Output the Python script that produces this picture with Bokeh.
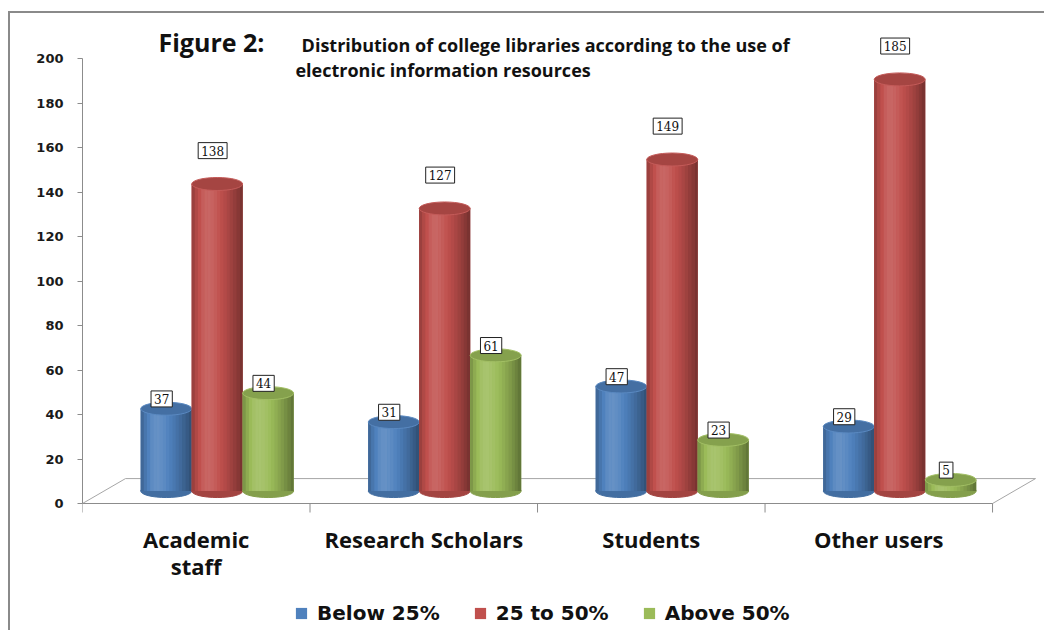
import numpy as np
from bokeh.plotting import figure
from bokeh.models import (Range1d, LinearAxis, FixedTicker, Label, Legend, LegendItem)
from bokeh.core.properties import value
from bokeh.embed import file_html
from bokeh.resources import INLINE

# ---------------- data ----------------
categories = ["Academic\nstaff", "Research Scholars", "Students", "Other users"]
series_names = ["Below 25%", "25 to 50%", "Above 50%"]
below_25 = [37, 31, 47, 29]
from_25_to_50 = [138, 127, 149, 185]
above_50 = [44, 61, 23, 5]
y_ticks = [0, 20, 40, 60, 80, 100, 120, 140, 160, 180, 200]
series_values = [below_25, from_25_to_50, above_50]
series_colors = ["#4F81BD", "#C0504D", "#9BBB59"]

# ---------------- style / geometry ----------------
PX = 2.225             # pixels per value unit on the y scale
BAR_W = 0.224          # bar width in category units
DEPTH_X = 0.092        # pseudo 3D depth shift (x, category units)
DEPTH_Y = 5.6          # pseudo 3D depth shift (y, value units)
FLOOR_X = 0.189
FLOOR_Y = 11.2
LABEL_DY = [4.4, 15.0, 4.4]
N_STRIPS = 16
GRAY = "#8C8C8C"


def shade(hex_color, f):
    c = [int(hex_color[i:i + 2], 16) for i in (1, 3, 5)]
    if f >= 1:
        c = [v + (255 - v) * (f - 1) * 1.3 for v in c]
    else:
        c = [v * f for v in c]
    c = [max(0, min(255, int(round(v)))) for v in c]
    return "#%02x%02x%02x" % tuple(c)


def profile(t):
    if t < 0.33:
        return 1.10 - 0.36 * ((0.33 - t) / 0.33) ** 2
    return 1.10 - 0.50 * ((t - 0.33) / 0.67) ** 1.5


p = figure(frame_width=956, frame_height=617, x_range=Range1d(0, 4.202),
           y_range=Range1d(-127 / PX, 490 / PX),
           output_backend="svg", toolbar_location=None,
           x_axis_location=None, y_axis_location=None,
           min_border_left=72, min_border_right=6, min_border_top=0, min_border_bottom=0)
p.grid.visible = False
p.outline_line_color = None
p.background_fill_color = "white"
p.border_fill_color = "white"
# the outer gray frame of the figure (left and top edges are visible)
p.styles = {"margin-left": "8px", "margin-top": "11px",
            "border-left": "2px solid #8a8a8a", "border-top": "2px solid #8a8a8a"}

# floor
p.patch(x=[0, 4, 4 + FLOOR_X, FLOOR_X], y=[0, 0, FLOOR_Y, FLOOR_Y],
        fill_color="white", line_color="#A6A6A6", line_width=1)

# category axis: line, boundary ticks and names
cat_edges = list(range(len(categories) + 1))
p.segment(x0=[0], y0=[0], x1=[len(categories)], y1=[0], line_color=GRAY, line_width=1)
p.segment(x0=cat_edges, y0=[0] * len(cat_edges), x1=cat_edges,
          y1=[-9 / PX] * len(cat_edges), line_color=GRAY, line_width=1)
p.text(x=[i + 0.5 for i in range(len(categories))], y=[-20 / PX] * len(categories),
       text=categories, text_align="center", text_baseline="top",
       text_font=value("Open Sans"), text_font_style="bold", text_font_size="22px",
       text_line_height=0.9, text_color="#111111")

# cylinders
legend_items = []
for s, (vals, col) in enumerate(zip(series_values, series_colors)):
    xs = [c + 0.5 + (s - 1) * BAR_W + DEPTH_X for c in range(len(vals))]
    tops_y = [DEPTH_Y + v for v in vals]
    p.ellipse(x=xs, y=[DEPTH_Y] * len(xs), width=BAR_W, height=13, height_units="screen",
              fill_color=shade(col, 0.85), line_color=shade(col, 0.85))
    body = p.vbar(x=xs, bottom=DEPTH_Y, top=tops_y, width=BAR_W,
                  fill_color=col, line_color=None)
    legend_items.append(LegendItem(label=series_names[s], renderers=[body]))
    strip = dict(x=[], top=[], color=[])
    for xc, v in zip(xs, vals):
        for j in range(N_STRIPS):
            t = (j + 0.5) / N_STRIPS
            strip["x"].append(xc - BAR_W / 2 + t * BAR_W)
            strip["top"].append(DEPTH_Y + v)
            strip["color"].append(shade(col, profile(t)))
    p.vbar(x="x", bottom=DEPTH_Y, top="top", width=BAR_W / N_STRIPS * 1.08,
           fill_color="color", line_color=None, source=strip)
    p.ellipse(x=xs, y=tops_y, width=BAR_W, height=13, height_units="screen",
              fill_color=shade(col, 0.86), line_color=shade(col, 1.05), line_width=1)

# value labels
for s, vals in enumerate(series_values):
    for c, v in enumerate(vals):
        xc = c + 0.5 + (s - 1) * BAR_W + DEPTH_X - 0.02
        p.add_layout(Label(x=xc, y=DEPTH_Y + v + LABEL_DY[s], text=str(v),
                           text_align="center", text_baseline="middle",
                           text_font="DejaVu Serif", text_font_size="12px",
                           text_color="#111111",
                           border_line_color="#222222", border_line_width=1,
                           background_fill_color="white", padding=3))

# y axis
yaxis = LinearAxis(ticker=FixedTicker(ticks=y_ticks), bounds=(0, 200))
yaxis.axis_line_color = GRAY
yaxis.major_tick_line_color = GRAY
yaxis.major_tick_out = 5
yaxis.major_tick_in = 0
yaxis.minor_tick_line_color = None
yaxis.major_label_standoff = 14
yaxis.major_label_text_font = "DejaVu Sans"
yaxis.major_label_text_font_style = "bold"
yaxis.major_label_text_font_size = "13px"
yaxis.major_label_text_color = "#1a1a1a"
p.add_layout(yaxis, "left")

# legend (bottom of the plotting area)
legend = Legend(items=legend_items, orientation="horizontal", location=(212, 5),
                glyph_width=14, glyph_height=14, label_standoff=9, spacing=33,
                label_text_font="DejaVu Sans", label_text_font_style="bold",
                label_text_font_size="20px", label_text_color="#111111",
                border_line_color=None, background_fill_alpha=0, padding=4, margin=0)
p.add_layout(legend)

# titles
p.add_layout(Label(x=0.334, y=207.2, text="Figure 2:", text_align="left",
                   text_baseline="middle", text_font="Open Sans", text_font_style="bold",
                   text_font_size="25px", text_color="#111111"))
p.add_layout(Label(x=0.963, y=206.0,
                   text="Distribution of college libraries according to the use of",
                   text_align="left", text_baseline="middle", text_font="Open Sans",
                   text_font_style="bold", text_font_size="18px", text_color="#111111"))
p.add_layout(Label(x=0.936, y=195.0,
                   text="electronic information resources",
                   text_align="left", text_baseline="middle", text_font="Open Sans",
                   text_font_style="bold", text_font_size="18px", text_color="#111111"))

open("out.html", "w").write(file_html(p, INLINE))
